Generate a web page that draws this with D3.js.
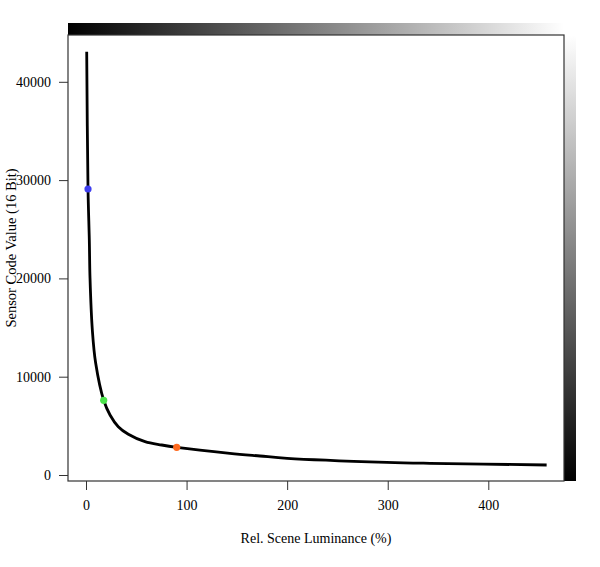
<!DOCTYPE html>
<html>
<head>
<meta charset="utf-8">
<script src="https://cdn.jsdelivr.net/npm/d3@7"></script>
<style>
  body { margin: 0; background: #fff; }
  text { font-family: "Liberation Serif", "DejaVu Serif", serif; fill: #000; }
</style>
</head>
<body>
<div id="main"></div>
<script>
// curve
const luminance = [0.7, 2, 3.3, 4, 6.3, 9.6, 17.6, 23.9, 32.1, 42.1, 58.7, 75.3, 90.2, 143, 173, 200, 299, 342, 458];
const codeValue = [43060, 29095, 23906, 20010, 14750, 11394, 7600, 6104, 4914, 4140, 3388, 3052, 2818, 2207, 1933, 1700, 1292, 1190, 1017];

// highlighted points
const markLum = [2, 17.6, 90.2];
const markCode = [29095, 7600, 2818];
const markColor = ["#3f3ff0", "#4be44b", "#ff6a1f"];

const xTicks = [0, 100, 200, 300, 400];
const yTicks = [0, 10000, 20000, 30000, 40000];

const width = 600;
const height = 567;
const box = { left: 68, right: 564, top: 35, bottom: 481 };

const svg = d3.select("#main").append("svg")
    .attr("width", width)
    .attr("height", height);

const x = d3.scaleLinear().domain([0, 400]).range([86, 488.3]);
const y = d3.scaleLinear().domain([0, 40000]).range([475, 81.8]);

// gradients
const defs = svg.append("defs");
const gTop = defs.append("linearGradient").attr("id", "gTop")
    .attr("x1", 0).attr("x2", 1).attr("y1", 0).attr("y2", 0);
gTop.append("stop").attr("offset", 0).attr("stop-color", "#000");
gTop.append("stop").attr("offset", 1).attr("stop-color", "#fff");

const gRight = defs.append("linearGradient").attr("id", "gRight")
    .attr("x1", 0).attr("x2", 0).attr("y1", 0).attr("y2", 1);
gRight.append("stop").attr("offset", 0).attr("stop-color", "#fff");
gRight.append("stop").attr("offset", 1).attr("stop-color", "#000");

svg.append("rect")
    .attr("x", box.left).attr("y", 23)
    .attr("width", box.right - box.left).attr("height", box.top - 23)
    .attr("fill", "url(#gTop)");

svg.append("rect")
    .attr("x", box.right).attr("y", box.top)
    .attr("width", 12).attr("height", box.bottom - box.top)
    .attr("fill", "url(#gRight)");

// plot frame
svg.append("rect")
    .attr("x", box.left).attr("y", box.top)
    .attr("width", box.right - box.left).attr("height", box.bottom - box.top)
    .attr("fill", "none")
    .attr("stroke", "#333")
    .attr("stroke-width", 1.2);

// axes
const xAxis = d3.axisBottom(x).tickValues(xTicks).tickSize(9).tickPadding(10).tickFormat(d3.format("d"));
const gx = svg.append("g").attr("transform", `translate(0,${box.bottom})`).call(xAxis);
gx.select(".domain").remove();
gx.selectAll("line").attr("stroke", "#333");
gx.selectAll("text").attr("font-size", 14).attr("font-family", "Liberation Serif");

const yAxis = d3.axisLeft(y).tickValues(yTicks).tickSize(9).tickPadding(8).tickFormat(d3.format("d"));
const gy = svg.append("g").attr("transform", `translate(${box.left},0)`).call(yAxis);
gy.select(".domain").remove();
gy.selectAll("line").attr("stroke", "#333");
gy.selectAll("text").attr("font-size", 14).attr("font-family", "Liberation Serif");

// axis titles
svg.append("text")
    .attr("x", (box.left + box.right) / 2)
    .attr("y", 543)
    .attr("text-anchor", "middle")
    .attr("font-size", 14)
    .text("Rel. Scene Luminance (%)");

svg.append("text")
    .attr("transform", "translate(16,248) rotate(-90)")
    .attr("text-anchor", "middle")
    .attr("font-size", 14.5)
    .text("Sensor Code Value (16 Bit)");

// curve
const pts = luminance.map((d, i) => [d, codeValue[i]]);
const line = d3.line()
    .x(d => x(d[0]))
    .y(d => y(d[1]))
    .curve(d3.curveCatmullRom.alpha(0.5));

svg.append("path")
    .datum(pts)
    .attr("d", line)
    .attr("fill", "none")
    .attr("stroke", "#000")
    .attr("stroke-width", 2.8);

svg.append("g")
    .selectAll("circle")
    .data(markLum)
    .enter()
    .append("circle")
    .attr("cx", d => x(d))
    .attr("cy", (d, i) => y(markCode[i]))
    .attr("r", 3.6)
    .attr("fill", (d, i) => markColor[i]);
</script>
</body>
</html>
